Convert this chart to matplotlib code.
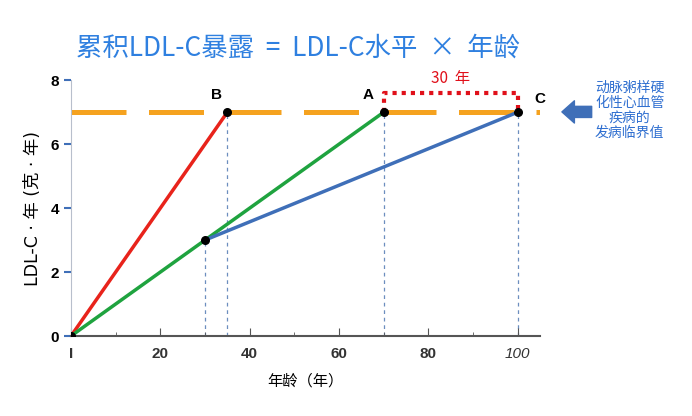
import matplotlib.pyplot as plt
from matplotlib.ticker import MultipleLocator

plt.rcParams['font.family'] = ['Noto Sans CJK SC', 'DejaVu Sans']

# data
red_x = [0, 35]
red_y = [0, 7]
green_x = [0, 30, 70]
green_y = [0, 3, 7]
blue_x = [30, 100]
blue_y = [3, 7]
threshold = 7
dots_x = [0, 30, 35, 70, 100]
dots_y = [0, 3, 7, 7, 7]
guide_x = [30, 35, 70, 100]
guide_top = [3, 7, 7, 7]
point_labels = ['B', 'A', 'C']
point_label_x = [35, 70, 100]
xticks = [0, 20, 40, 60, 80, 100]
xtick_labels = ['I', '20', '40', '60', '80', '100']
yticks = [0, 2, 4, 6, 8]

fig = plt.figure(figsize=(6.92, 4.16), dpi=100)
ax = fig.add_axes([0.1026, 0.1923, 0.678, 0.615])

ax.plot([0, 105], [threshold, threshold], color='#F5A21F', lw=3.6,
        dashes=(11, 4.5), zorder=2)
ax.plot(red_x, red_y, color='#E8231B', lw=2.5, zorder=3)
ax.plot(green_x, green_y, color='#1FA33F', lw=2.5, zorder=3)
ax.plot(blue_x, blue_y, color='#3F6FB8', lw=2.5, zorder=3)
for gx, gt in zip(guide_x, guide_top):
    ax.plot([gx, gx], [0, gt], color='#6C8EBF', lw=0.9, ls=(0, (3, 3)), zorder=1)
ax.scatter(dots_x, dots_y, s=30, color='black', zorder=5)

# red bracket for 30 years
ax.plot([70, 70, 100, 100], [threshold, 7.6, 7.6, threshold], color='#E0101A',
        lw=3, ls=(0, (1, 1.2)), zorder=4, clip_on=False)
ax.text(85, 8.05, '30  年', color='#E0101A', fontsize=11, ha='center',
        va='center', clip_on=False)

offsets = [(-2.5, 7.55), (-3.5, 7.55), (5, 7.4)]
for lab, px, (dx, yy) in zip(point_labels, point_label_x, offsets):
    ax.text(px + dx, yy, lab, fontsize=11, fontweight='bold', ha='center',
            va='center', family='Liberation Sans')

ax.set_xlim(0, 105)
ax.set_ylim(0, 8)
ax.spines['top'].set_visible(False)
ax.spines['right'].set_visible(False)
ax.spines['left'].set_color('#B8BFCC')
ax.spines['bottom'].set_color('#555555')
ax.spines['bottom'].set_linewidth(1.5)

ax.set_xticks(xticks)
ax.set_xticklabels(xtick_labels, fontweight='bold', fontsize=11, color='#333333',
                   family='Liberation Sans')
ax.get_xticklabels()[-1].set_fontstyle('italic')
ax.get_xticklabels()[-1].set_fontweight('normal')
ax.xaxis.set_minor_locator(MultipleLocator(10))
ax.tick_params(axis='x', which='major', direction='in', length=6, color='#555555', pad=8)
ax.tick_params(axis='x', which='minor', direction='in', length=3, color='#555555')
ax.set_yticks(yticks)
ax.set_yticklabels([str(v) for v in yticks], fontweight='bold', fontsize=11,
                   family='Liberation Sans')
ax.tick_params(axis='y', direction='out', length=5, width=1.5, color='#3F6FB8')

ax.set_xlabel('年龄（年）', fontsize=11, labelpad=8)
ax.set_ylabel('LDL-C · 年 (克 · 年)', fontsize=12.5, labelpad=6,
              family=['DejaVu Sans', 'Noto Sans CJK SC'])

fig.text(0.43, 0.885, '累积LDL-C暴露  =  LDL-C水平  ×  年龄', color='#2F80E0',
         fontsize=19, ha='center', va='center')

# arrow and side note
ax.annotate('', xy=(0.812, 0.731), xytext=(0.855, 0.731), xycoords='figure fraction',
            textcoords='figure fraction',
            arrowprops=dict(facecolor='#3F6FB8', edgecolor='#3F6FB8', width=8,
                            headwidth=16, headlength=9))
fig.text(0.91, 0.735, '动脉粥样硬\n化性心血管\n疾病的\n发病临界值', color='#2F6FD0',
         fontsize=10, ha='center', va='center', linespacing=1.1)

fig.savefig('out.png', dpi=100)
